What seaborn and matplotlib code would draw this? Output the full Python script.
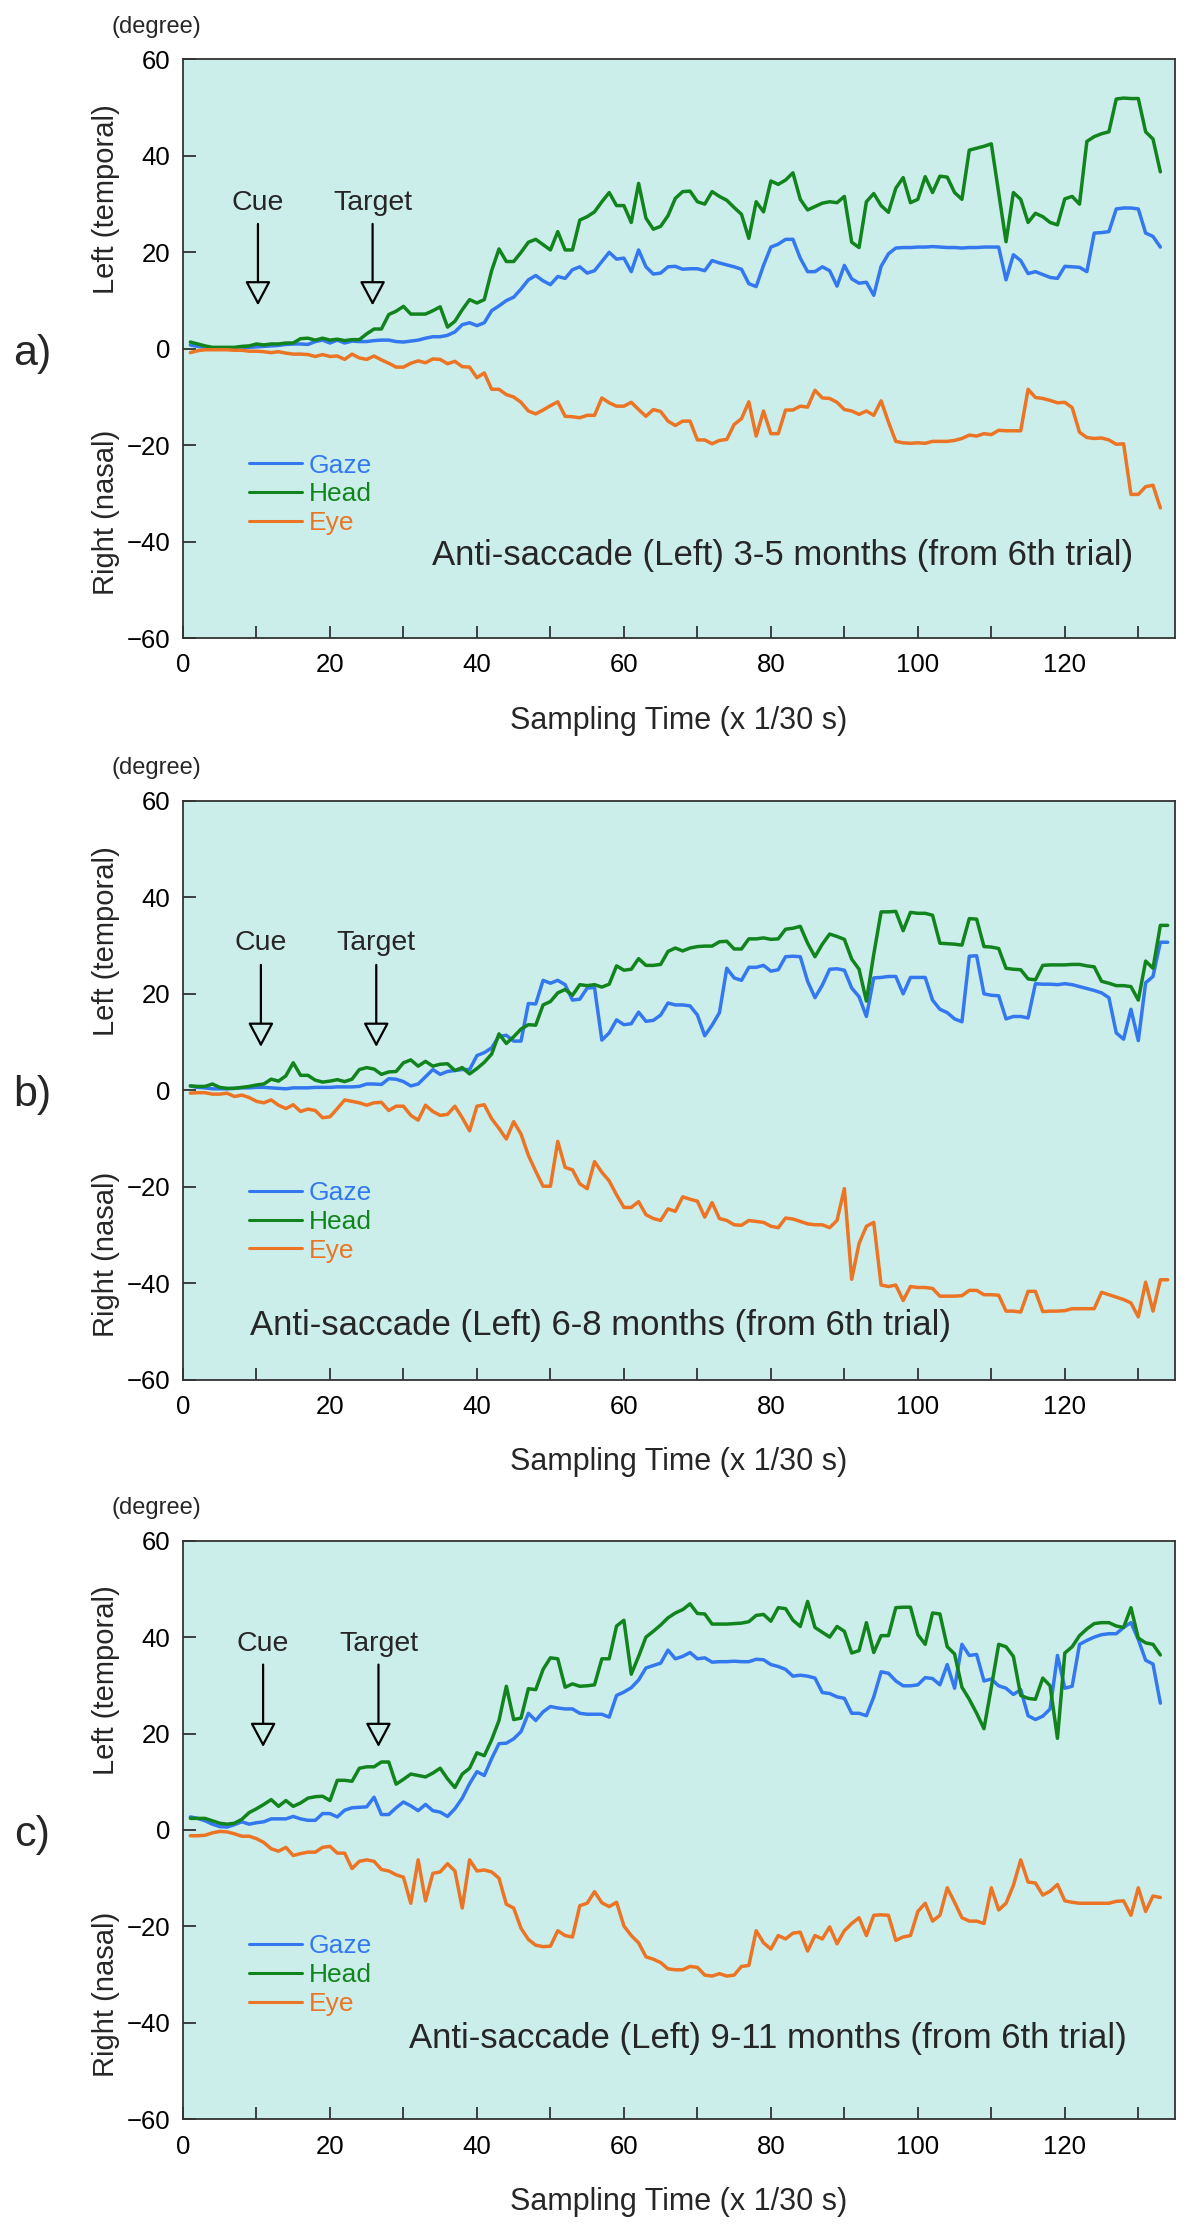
import numpy as np
import pandas as pd
import matplotlib
matplotlib.use("Agg")
import matplotlib.pyplot as plt
import seaborn as sns

sns.set_style("ticks")
plt.rcParams["font.family"] = ["Liberation Sans", "DejaVu Sans"]

GAZE_COLOR = "#3478F0"
HEAD_COLOR = "#12841E"
EYE_COLOR = "#EB7425"
BG_COLOR = "#CCEEEA"

# ---- panel a: 3-5 months ----
a_gaze = [0.8, 0.5, 0.3, 0.2, 0.2, 0.2, 0.2, 0.3, 0.3, 0.4,
          0.5, 0.6, 0.7, 0.9, 1.0, 1.0, 0.9, 1.5, 1.8, 1.2,
          1.8, 1.2, 1.6, 1.5, 1.5, 1.7, 1.8, 1.8, 1.5, 1.4,
          1.6, 1.8, 2.2, 2.5, 2.5, 2.8, 3.5, 5.0, 5.4, 4.8,
          5.4, 7.9, 8.9, 10.0, 10.7, 12.4, 14.3, 15.2, 14.1, 13.3,
          15.0, 14.6, 16.4, 17.0, 15.7, 16.2, 18.1, 20.0, 18.6, 18.8,
          16.0, 20.5, 17.0, 15.5, 15.7, 17.0, 17.1, 16.5, 16.6, 16.6,
          16.2, 18.3, 17.8, 17.4, 17.0, 16.5, 13.5, 12.9, 17.3, 21.1,
          21.7, 22.7, 22.7, 18.8, 16.0, 16.0, 17.0, 16.2, 13.0, 17.3,
          14.5, 13.6, 13.8, 11.1, 17.1, 19.7, 20.9, 21.0, 21.0, 21.1,
          21.1, 21.2, 21.1, 21.0, 21.0, 20.9, 21.0, 21.0, 21.1, 21.1,
          21.1, 14.3, 19.5, 18.3, 15.6, 16.0, 15.4, 14.8, 14.6, 17.1,
          17.0, 16.9, 16.0, 24.0, 24.1, 24.3, 29.0, 29.2, 29.2, 29.0,
          24.0, 23.3, 21.1]
a_head = [1.4, 1.0, 0.6, 0.3, 0.3, 0.3, 0.3, 0.5, 0.6, 1.0,
          0.8, 1.0, 1.0, 1.2, 1.2, 2.1, 2.2, 1.8, 2.2, 1.8,
          2.0, 1.7, 1.9, 1.9, 3.1, 4.1, 4.1, 7.1, 7.8, 8.8,
          7.2, 7.2, 7.2, 7.9, 8.7, 4.5, 5.7, 8.1, 10.2, 9.5,
          10.2, 16.2, 20.7, 18.1, 18.1, 20.0, 22.1, 22.7, 21.6, 20.5,
          24.3, 20.5, 20.5, 26.7, 27.4, 28.4, 30.5, 32.4, 29.7, 29.7,
          26.2, 34.3, 27.1, 24.8, 25.4, 27.6, 31.2, 32.6, 32.7, 30.5,
          30.0, 32.6, 31.6, 30.8, 29.3, 27.9, 22.9, 30.5, 28.4, 34.8,
          34.1, 35.0, 36.5, 31.0, 28.8, 29.5, 30.2, 30.5, 30.3, 31.6,
          22.1, 21.0, 30.5, 32.2, 29.7, 28.3, 33.3, 35.5, 30.3, 31.0,
          35.7, 32.4, 35.8, 35.6, 32.4, 31.0, 41.2, 41.6, 42.0, 42.5,
          32.4, 22.2, 32.4, 31.0, 26.2, 28.1, 27.4, 26.2, 25.7, 31.1,
          31.6, 30.0, 43.0, 44.0, 44.6, 45.0, 51.8, 52.0, 51.9, 51.9,
          45.0, 43.5, 36.7]
a_eye = [-0.8, -0.4, -0.2, -0.2, -0.2, -0.2, -0.3, -0.3, -0.5, -0.5,
         -0.6, -0.8, -0.6, -0.9, -1.1, -1.1, -1.2, -1.6, -1.2, -1.6,
         -1.5, -2.2, -1.1, -1.9, -2.2, -1.5, -2.3, -3.0, -3.8, -3.8,
         -3.0, -2.5, -2.9, -2.1, -2.2, -3.1, -2.6, -3.7, -3.8, -6.0,
         -5.0, -8.4, -8.4, -9.5, -10.0, -11.1, -12.9, -13.5, -12.7, -11.8,
         -11.0, -14.0, -14.1, -14.3, -13.8, -13.8, -10.2, -11.2, -11.9, -11.9,
         -11.1, -12.6, -14.0, -12.6, -13.0, -15.0, -15.9, -15.0, -15.0, -18.9,
         -18.9, -19.7, -19.0, -18.8, -15.7, -14.5, -11.0, -18.1, -12.9, -17.6,
         -17.6, -12.7, -12.7, -11.9, -12.1, -8.6, -10.2, -10.3, -11.1, -12.6,
         -12.9, -13.6, -12.9, -13.8, -10.8, -15.2, -19.2, -19.5, -19.6, -19.5,
         -19.6, -19.2, -19.2, -19.2, -19.0, -18.6, -17.9, -18.1, -17.6, -17.8,
         -16.9, -17.0, -17.0, -17.0, -8.4, -10.1, -10.3, -10.7, -11.2, -11.1,
         -12.2, -17.3, -18.4, -18.6, -18.5, -18.9, -19.8, -19.7, -30.2, -30.2,
         -28.6, -28.3, -33.0]

# ---- panel b: 6-8 months ----
b_gaze = [0.9, 0.6, 0.5, 0.3, 0.3, 0.3, 0.4, 0.5, 0.5, 0.6,
          0.6, 0.5, 0.4, 0.3, 0.5, 0.5, 0.5, 0.6, 0.6, 0.6,
          0.7, 0.7, 0.7, 0.8, 1.3, 1.3, 1.2, 2.4, 2.3, 1.8,
          0.9, 1.3, 2.8, 4.3, 3.3, 3.9, 4.1, 4.3, 4.3, 7.2,
          7.8, 8.8, 11.2, 11.4, 10.2, 10.2, 18.0, 17.9, 22.8, 22.2,
          22.8, 21.9, 18.7, 18.9, 21.2, 21.3, 10.4, 11.9, 14.6, 13.6,
          13.8, 16.2, 14.3, 14.5, 15.6, 18.1, 17.7, 17.7, 17.5, 15.6,
          11.3, 13.5, 16.1, 25.3, 23.3, 22.8, 25.5, 25.5, 25.9, 24.7,
          25.0, 27.7, 27.8, 27.7, 22.6, 19.2, 21.8, 25.1, 25.2, 24.9,
          21.2, 19.4, 15.3, 23.3, 23.4, 23.6, 23.6, 20.0, 23.4, 23.4,
          23.4, 18.7, 16.8, 16.1, 14.8, 14.2, 27.8, 27.9, 20.0, 19.7,
          19.6, 14.8, 15.3, 15.3, 15.0, 22.1, 22.0, 22.0, 21.9, 22.1,
          21.9, 21.5, 21.1, 20.7, 20.2, 19.2, 11.9, 10.6, 16.8, 10.3,
          22.3, 23.6, 30.7, 30.7]
b_head = [0.9, 0.8, 0.8, 1.3, 0.6, 0.4, 0.4, 0.6, 0.8, 1.1,
          1.3, 2.3, 1.9, 3.0, 5.7, 3.1, 3.1, 2.1, 1.7, 1.9,
          2.2, 1.8, 2.3, 4.3, 4.7, 4.4, 3.3, 3.8, 3.9, 5.7,
          6.3, 5.0, 6.0, 5.0, 5.4, 5.5, 4.1, 4.7, 3.4, 4.5,
          5.8, 7.5, 11.7, 9.7, 11.1, 12.7, 13.6, 13.5, 17.7, 18.4,
          20.2, 20.9, 19.7, 21.9, 21.7, 21.9, 21.4, 22.0, 25.8, 24.9,
          25.1, 27.3, 25.9, 25.9, 26.1, 28.8, 29.5, 28.9, 29.5, 29.8,
          29.9, 29.9, 30.8, 30.9, 29.3, 29.3, 31.4, 31.4, 31.6, 31.3,
          31.4, 33.4, 33.6, 34.0, 30.5, 27.7, 30.3, 32.4, 31.9, 31.3,
          27.2, 25.1, 18.5, 28.2, 37.0, 37.0, 37.1, 33.1, 36.9, 36.7,
          36.7, 36.3, 30.5, 30.4, 30.3, 30.1, 35.6, 35.5, 29.8, 29.7,
          29.4, 25.3, 25.1, 25.0, 23.1, 22.9, 25.9, 26.0, 26.0, 26.0,
          26.1, 26.1, 25.8, 25.6, 22.6, 22.2, 21.7, 21.7, 21.5, 18.7,
          26.8, 25.3, 34.2, 34.2]
b_eye = [-0.6, -0.5, -0.5, -0.8, -0.8, -0.6, -1.3, -1.0, -1.5, -2.3,
         -2.6, -2.0, -3.1, -3.8, -3.0, -4.4, -3.9, -4.2, -5.7, -5.5,
         -3.8, -2.0, -2.3, -2.6, -3.1, -2.6, -2.5, -4.2, -3.3, -3.3,
         -5.2, -6.2, -3.1, -4.4, -5.2, -5.0, -3.3, -5.7, -8.4, -3.3,
         -3.0, -5.9, -7.9, -10.1, -6.5, -9.1, -13.5, -16.8, -19.9, -19.9,
         -10.6, -16.0, -16.5, -19.4, -20.4, -14.8, -17.0, -18.8, -21.7, -24.3,
         -24.3, -23.1, -25.8, -26.6, -27.0, -24.6, -25.1, -22.1, -22.6, -23.0,
         -26.3, -23.3, -26.6, -27.0, -27.9, -28.0, -27.0, -27.2, -27.4, -28.2,
         -28.5, -26.5, -26.7, -27.2, -27.7, -27.9, -27.9, -28.5, -27.0, -20.4,
         -39.2, -31.8, -28.2, -27.4, -40.4, -40.7, -40.4, -43.6, -40.7, -40.9,
         -40.9, -41.1, -42.7, -42.7, -42.7, -42.6, -41.5, -41.5, -42.4, -42.4,
         -42.5, -45.8, -45.8, -46.0, -41.7, -41.7, -45.9, -45.8, -45.8, -45.7,
         -45.3, -45.3, -45.3, -45.3, -41.9, -42.4, -42.9, -43.4, -44.1, -47.0,
         -39.8, -45.8, -39.3, -39.3]

# ---- panel c: 9-11 months ----
c_gaze = [2.7, 2.4, 1.9, 1.2, 0.7, 0.6, 1.1, 1.7, 1.2, 1.5,
          1.7, 2.3, 2.3, 2.3, 2.8, 2.3, 2.0, 2.0, 3.4, 3.4,
          2.7, 4.1, 4.6, 4.7, 4.8, 6.8, 3.2, 3.2, 4.6, 5.8,
          5.0, 4.0, 5.3, 4.0, 3.7, 2.8, 4.4, 6.6, 9.6, 12.1,
          11.3, 14.8, 17.9, 18.0, 18.9, 20.4, 24.2, 22.7, 24.5, 25.6,
          25.3, 25.1, 25.1, 24.2, 24.0, 24.0, 24.0, 23.4, 27.9, 28.6,
          29.5, 31.1, 33.6, 34.1, 34.6, 37.3, 35.5, 36.0, 36.8, 35.5,
          35.7, 34.8, 34.9, 34.9, 35.0, 34.9, 34.9, 35.4, 35.3, 34.3,
          33.9, 33.3, 31.9, 32.1, 31.9, 31.5, 28.5, 28.3, 27.6, 27.3,
          24.2, 24.2, 23.7, 27.6, 32.8, 32.5, 30.9, 29.9, 29.9, 30.1,
          31.6, 31.4, 30.1, 34.3, 29.4, 38.5, 36.2, 36.4, 30.9, 31.3,
          29.9, 29.4, 28.1, 29.1, 23.7, 22.9, 23.6, 25.1, 36.2, 29.4,
          29.8, 38.5, 39.3, 40.0, 40.5, 40.7, 40.7, 42.0, 43.0, 39.5,
          35.2, 34.4, 26.3]
c_head = [2.4, 2.4, 2.4, 1.9, 1.4, 1.2, 1.4, 2.2, 3.6, 4.4,
          5.3, 6.3, 4.9, 6.1, 4.9, 5.6, 6.6, 6.9, 7.0, 6.1,
          10.3, 10.3, 10.1, 12.8, 13.1, 13.1, 14.1, 14.1, 9.5, 10.5,
          11.6, 11.3, 11.0, 11.8, 12.8, 10.6, 8.8, 11.6, 12.8, 16.0,
          15.4, 18.7, 22.7, 29.8, 22.9, 23.2, 29.3, 29.1, 33.3, 35.7,
          35.5, 29.6, 30.3, 29.8, 29.9, 30.1, 35.5, 35.5, 42.3, 43.5,
          32.3, 36.0, 40.0, 41.2, 42.5, 44.0, 45.0, 45.7, 46.9, 44.9,
          44.8, 42.7, 42.7, 42.7, 42.8, 42.9, 43.2, 44.5, 44.7, 43.3,
          46.1, 45.9, 43.5, 42.2, 47.4, 42.0, 41.0, 40.0, 42.2, 41.2,
          36.7, 37.2, 43.0, 36.8, 40.3, 40.3, 46.1, 46.2, 46.2, 40.5,
          38.5, 45.0, 44.8, 38.0, 36.5, 29.6, 27.1, 24.2, 21.0, 29.6,
          38.5, 38.0, 36.0, 27.9, 27.3, 27.1, 31.5, 29.9, 19.0, 36.7,
          38.0, 40.3, 41.7, 42.8, 43.0, 43.0, 42.3, 42.0, 46.1, 39.8,
          38.8, 38.5, 36.3]
c_eye = [-1.2, -1.2, -1.1, -0.6, -0.3, -0.4, -0.8, -1.3, -1.3, -1.8,
         -2.6, -3.9, -4.4, -3.6, -5.3, -4.9, -4.6, -4.6, -3.6, -3.4,
         -4.8, -4.8, -8.0, -6.5, -6.2, -6.5, -8.2, -8.5, -9.3, -9.8,
         -15.2, -6.2, -14.7, -9.0, -8.7, -7.0, -8.5, -16.2, -6.2, -8.5,
         -8.3, -8.7, -10.0, -15.4, -16.2, -20.4, -22.7, -23.9, -24.2, -24.1,
         -20.9, -21.9, -22.2, -15.7, -15.2, -12.8, -15.1, -15.9, -15.0, -19.9,
         -21.9, -23.4, -26.3, -26.8, -27.5, -28.8, -29.0, -29.0, -28.3, -28.5,
         -30.1, -30.3, -29.8, -30.3, -30.1, -28.3, -28.1, -20.9, -23.4, -24.7,
         -21.9, -22.6, -21.4, -21.2, -25.1, -21.9, -22.6, -20.1, -23.6, -20.9,
         -19.4, -18.2, -21.9, -17.7, -17.6, -17.7, -22.9, -22.2, -21.9, -16.9,
         -15.2, -18.9, -17.7, -12.0, -15.0, -18.2, -18.9, -18.9, -19.4, -12.0,
         -16.6, -15.2, -11.5, -6.2, -10.8, -11.0, -13.5, -12.7, -11.3, -14.7,
         -15.0, -15.2, -15.2, -15.2, -15.2, -15.2, -14.8, -14.7, -17.7, -12.0,
         -16.9, -13.7, -14.0]

panel_letters = ["a)", "b)", "c)"]
panel_titles = ["Anti-saccade (Left) 3-5 months (from 6th trial)",
                "Anti-saccade (Left) 6-8 months (from 6th trial)",
                "Anti-saccade (Left) 9-11 months (from 6th trial)"]
x_ticks = [0, 20, 40, 60, 80, 100, 120]
y_ticks = [-60, -40, -20, 0, 20, 40, 60]

panels = [
    dict(gaze=a_gaze, head=a_head, eye=a_eye, bottom=0.7136,
         title_xy=(33.9, -42.9), cue_x=10.2, target_x=25.8,
         label_y=30.3, arrow=(25.9, 9.0), legend_y=0.2483),
    dict(gaze=b_gaze, head=b_head, eye=b_eye, bottom=0.3808,
         title_xy=(9.1, -48.8), cue_x=10.6, target_x=26.3,
         label_y=30.5, arrow=(26.0, 9.0), legend_y=0.2725),
    dict(gaze=c_gaze, head=c_head, eye=c_eye, bottom=0.0488,
         title_xy=(30.7, -43.2), cue_x=10.9, target_x=26.6,
         label_y=38.5, arrow=(34.3, 17.2), legend_y=0.2492),
]

fig = plt.figure(figsize=(12, 22.28), dpi=100)

for i, p in enumerate(panels):
    ax = fig.add_axes([0.1525, p["bottom"], 0.8267, 0.2597])
    ax.set_facecolor(BG_COLOR)
    n = len(p["gaze"])
    df = pd.DataFrame({"t": np.arange(1, n + 1), "Gaze": p["gaze"],
                       "Head": p["head"], "Eye": p["eye"]})
    for name, col in [("Gaze", GAZE_COLOR), ("Head", HEAD_COLOR), ("Eye", EYE_COLOR)]:
        sns.lineplot(data=df, x="t", y=name, ax=ax, color=col, linewidth=2.5,
                     label=name)

    ax.set_xlim(0, 135)
    ax.set_ylim(-60, 60)
    ax.set_xticks(x_ticks)
    ax.set_xticks([10, 30, 50, 70, 90, 110, 130], minor=True)
    ax.set_yticks(y_ticks)
    ax.tick_params(axis="both", which="both", direction="in", length=9,
                   width=1.2, colors="#222222", labelcolor="black")
    ax.tick_params(axis="x", labelsize=18.5, pad=11)
    ax.tick_params(axis="y", labelsize=18.5, pad=9)
    for s in ax.spines.values():
        s.set_linewidth(1.3)
        s.set_color("#333333")

    ax.set_xlabel("Sampling Time (x 1/30 s)", fontsize=22)
    ax.xaxis.set_label_coords(0.5, -0.117)
    ax.set_ylabel("")

    tr = ax.get_yaxis_transform()
    ax.text(-0.078, 31, "Left (temporal)", transform=tr, rotation=90,
            ha="center", va="center", fontsize=21)
    ax.text(-0.078, -34, "Right (nasal)", transform=tr, rotation=90,
            ha="center", va="center", fontsize=21)
    ax.text(-0.152, -1, panel_letters[i], transform=tr, ha="center",
            va="center", fontsize=31)
    ax.text(-0.027, 1.057, "(degree)", transform=ax.transAxes, ha="center",
            va="center", fontsize=17)

    top, tip = p["arrow"]
    for lbl, xpos in [("Cue", p["cue_x"]), ("Target", p["target_x"])]:
        ax.text(xpos, p["label_y"], lbl, ha="center", va="center", fontsize=20.5)
        ax.annotate("", xy=(xpos, tip), xytext=(xpos, top),
                    arrowprops=dict(arrowstyle="-|>,head_length=0.75,head_width=0.4",
                                    mutation_scale=20, lw=1.6, color="black",
                                    fc=BG_COLOR, shrinkA=0, shrinkB=0))

    ax.text(p["title_xy"][0], p["title_xy"][1], panel_titles[i], ha="left",
            va="center", fontsize=25)

    leg = ax.legend(loc="center left", bbox_to_anchor=(9.0 / 135, p["legend_y"]),
                    frameon=False, fontsize=19, handlelength=2.0,
                    handletextpad=0.25, labelspacing=0.18, borderpad=0,
                    borderaxespad=0, labelcolor="linecolor")
    for line in leg.get_lines():
        line.set_linewidth(2.2)

fig.savefig("out.png", dpi=100)
